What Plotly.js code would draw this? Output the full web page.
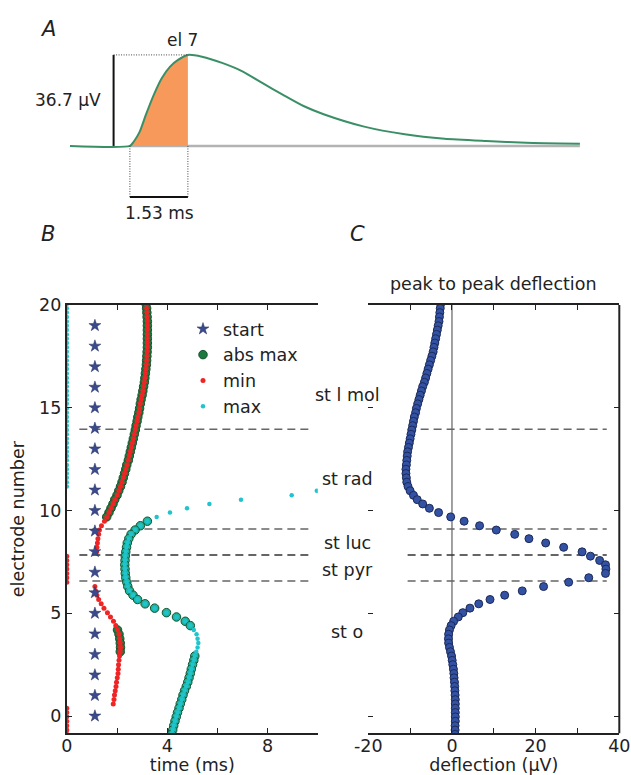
<!DOCTYPE html>
<html><head><meta charset="utf-8">
<script src="https://cdn.plot.ly/plotly-3.0.1.min.js"></script>
<style>html,body{margin:0;padding:0;background:#fff}#chart{width:631px;height:775px}</style>
</head><body><div id="chart"></div>
<script>
// ---------- Panel A: waveform on electrode 7 ----------
const waveTime = [-1.58, 0, 0.1, 0.26, 0.42, 0.63, 0.84, 1.06, 1.27, 1.53, 1.9, 2.45, 2.98, 3.5, 4.04, 4.58, 5.11, 6.18, 7.25, 8.3, 9.4, 10.45, 11.87];
const waveVolt = [0, 0, 1.7, 5.8, 12.5, 20.6, 27.3, 32.0, 34.7, 36.7, 36.0, 33.4, 30.0, 25.3, 20.6, 16.1, 12.8, 7.8, 4.7, 2.9, 2.0, 1.3, 0.9];
const peakAmp = 36.7;      // µV
const riseTime = 1.53;     // ms
const barTime = -0.43;     // position of the amplitude scale bar (ms)
const scaleBarDepth = -20.6; // level of the time scale bar (µV)
const elLabel = 'el 7';

// ---------- Panels B and C: per electrode ----------
const electrode = [20.05, 19.84, 19.63, 19.42, 19.20, 18.99, 18.78, 18.57, 18.36, 18.15,
  17.94, 17.72, 17.51, 17.30, 17.09, 16.88, 16.67, 16.45, 16.24, 16.03,
  15.82, 15.61, 15.40, 15.19, 14.97, 14.76, 14.55, 14.34, 14.13, 13.92,
  13.71, 13.49, 13.28, 13.07, 12.86, 12.65, 12.44, 12.22, 12.01, 11.80,
  11.59, 11.38, 11.17, 10.96, 10.74, 10.53, 10.32, 10.11, 9.90, 9.69,
  9.48, 9.26, 9.05, 8.84, 8.63, 8.42, 8.21, 7.99, 7.78, 7.57,
  7.36, 7.15, 6.94, 6.73, 6.51, 6.30, 6.09, 5.88, 5.67, 5.46,
  5.25, 5.03, 4.82, 4.61, 4.40, 4.19, 3.98, 3.76, 3.55, 3.34,
  3.13, 2.92, 2.71, 2.50, 2.28, 2.07, 1.86, 1.65, 1.44, 1.23,
  1.02, 0.80, 0.59, 0.38, 0.17, -0.04, -0.25, -0.47, -0.68, -0.89];

const tMin = [3.16, 3.18, 3.19, 3.20, 3.21, 3.21, 3.21, 3.21, 3.21, 3.21,
  3.21, 3.20, 3.19, 3.18, 3.17, 3.15, 3.13, 3.11, 3.09, 3.06,
  3.03, 3.00, 2.96, 2.93, 2.90, 2.87, 2.83, 2.80, 2.76, 2.73,
  2.69, 2.65, 2.61, 2.57, 2.53, 2.49, 2.45, 2.39, 2.35, 2.30,
  2.25, 2.20, 2.14, 2.07, 2.00, 1.91, 1.84, 1.76, 1.68, 1.59,
  1.50, 1.38, 1.30, 1.27, 1.24, 1.22, 1.20, 1.19, 0, 0,
  0, 0, 0, 0, 0, 1.12, 1.15, 1.20, 1.27, 1.37,
  1.48, 1.62, 1.74, 1.86, 1.95, 2.02, 2.08, 2.11, 2.13, 2.14,
  2.13, 2.10, 2.08, 2.06, 2.05, 2.04, 2.01, 1.98, 1.96, 1.93,
  1.90, 1.88, 1.85, 0, 0, 0, 0, 0, 0, 0];

const tMax = [0, 0, 0, 0, 0, 0, 0, 0, 0, 0,
  0, 0, 0, 0, 0, 0, 0, 0, 0, 0,
  0, 0, 0, 0, 0, 0, 0, 0, 0, 0,
  0, 0, 0, 0, 0, 0, 0, 0, 0, 0,
  0, 0, 0, 9.96, 8.96, 6.94, 5.68, 4.79, 4.11, 3.58,
  3.21, 2.93, 2.72, 2.56, 2.47, 2.41, 2.38, 2.35, 2.33, 2.32,
  2.31, 2.32, 2.33, 2.35, 2.39, 2.43, 2.50, 2.64, 2.82, 3.12,
  3.50, 3.97, 4.37, 4.72, 4.92, 5.06, 5.17, 5.21, 5.24, 5.21,
  5.16, 5.10, 5.06, 5.01, 4.96, 4.92, 4.87, 4.82, 4.76, 4.69,
  4.63, 4.58, 4.52, 4.47, 4.41, 4.36, 4.31, 4.26, 4.22, 4.18];

const tAbsMax = [3.16, 3.18, 3.19, 3.20, 3.21, 3.21, 3.21, 3.21, 3.21, 3.21,
  3.21, 3.20, 3.19, 3.18, 3.17, 3.15, 3.13, 3.11, 3.09, 3.06,
  3.03, 3.00, 2.96, 2.93, 2.90, 2.87, 2.83, 2.80, 2.76, 2.73,
  2.69, 2.65, 2.61, 2.57, 2.53, 2.49, 2.45, 2.39, 2.35, 2.30,
  2.25, 2.20, 2.14, 2.07, 2.00, 1.91, 1.84, 1.76, 1.68, 1.59,
  3.21, 2.93, 2.72, 2.56, 2.47, 2.41, 2.38, 2.35, 2.33, 2.32,
  2.31, 2.32, 2.33, 2.35, 2.39, 2.43, 2.50, 2.64, 2.82, 3.12,
  3.50, 3.97, 4.37, 4.72, 4.92, 2.02, 2.08, 2.11, 2.13, 2.14,
  2.13, 5.10, 5.06, 5.01, 4.96, 4.92, 4.87, 4.82, 4.76, 4.69,
  4.63, 4.58, 4.52, 4.47, 4.41, 4.36, 4.31, 4.26, 4.22, 4.18];

const startElectrode = [0, 1, 2, 3, 4, 5, 6, 7, 8, 9, 10, 11, 12, 13, 14, 15, 16, 17, 18, 19];
const startTime = [1.12, 1.12, 1.12, 1.12, 1.12, 1.12, 1.12, 1.12, 1.12, 1.12, 1.12, 1.12, 1.12, 1.12, 1.12, 1.12, 1.12, 1.12, 1.12, 1.12];

const deflection = [-2.7, -2.8, -2.9, -3.0, -3.1, -3.3, -3.5, -3.7, -3.9, -4.1,
  -4.3, -4.5, -4.8, -5.1, -5.4, -5.7, -6.0, -6.3, -6.6, -7.0,
  -7.3, -7.6, -7.9, -8.2, -8.5, -8.7, -9.0, -9.2, -9.4, -9.6,
  -9.8, -10.0, -10.2, -10.4, -10.6, -10.7, -10.8, -10.9, -11.0, -11.0,
  -10.9, -10.8, -10.5, -10.0, -9.2, -8.3, -7.0, -5.4, -3.2, -0.3,
  2.9, 6.6, 10.6, 15.0, 18.4, 22.4, 26.7, 31.1, 33.1, 35.3,
  36.7, 36.8, 36.7, 32.7, 27.9, 21.9, 16.8, 12.6, 9.1, 6.4,
  4.3, 2.6, 1.5, 0.4, -0.2, -0.6, -0.8, -0.85, -0.8, -0.6,
  -0.35, -0.1, 0.05, 0.2, 0.35, 0.45, 0.5, 0.6, 0.65, 0.7,
  0.75, 0.8, 0.8, 0.8, 0.8, 0.8, 0.8, 0.75, 0.75, 0.75];

// layer boundaries and names
const layerBounds = [13.95, 9.1, 7.83, 6.57];
const layerNames = ['st l mol', 'st rad', 'st luc', 'st pyr', 'st o'];
const layerNamePos = [15.62, 11.52, 8.40, 7.10, 4.10];

// ---------- build ----------
const FONT = 'DejaVu Sans, Verdana, sans-serif';
const FS = 17.5;
const TXT = '#222';

const W = 631, H = 775;
const px = v => v / W;
const py = v => 1 - v / H;

const traces = [];

// A: gray baseline after onset
const postT = waveTime.filter(t => t >= 0);
traces.push({x: [postT[0], postT[postT.length - 1]], y: [0, 0], xaxis: 'x3', yaxis: 'y3',
  mode: 'lines', line: {color: '#b3b3b3', width: 2.5}, showlegend: false, hoverinfo: 'skip'});
// A: orange rising phase
const riseIdx = waveTime.map((t, i) => i).filter(i => waveTime[i] >= 0 && waveTime[i] <= riseTime);
traces.push({x: riseIdx.map(i => waveTime[i]), y: riseIdx.map(i => waveVolt[i]), xaxis: 'x3', yaxis: 'y3',
  mode: 'lines', line: {width: 0, color: '#f7995a', shape: 'spline', smoothing: 0.6}, fill: 'tozeroy', fillcolor: '#f7995a', showlegend: false, hoverinfo: 'skip'});
// A: waveform
traces.push({x: waveTime, y: waveVolt, xaxis: 'x3', yaxis: 'y3', mode: 'lines',
  line: {color: '#3b8f66', width: 2, shape: 'spline', smoothing: 0.6}, showlegend: false});

// B
const absColors = tAbsMax.map((t, i) => (t === tMax[i] && t !== tMin[i]) ? '#1fb4a2' : '#1b7a3e');
traces.push({x: tAbsMax, y: electrode, mode: 'markers', name: 'abs max', legendgroup: 'g2', legendrank: 2,
  marker: {size: 8.5, color: absColors, line: {color: '#16522e', width: 1}}});
traces.push({x: tMin, y: electrode, mode: 'markers', name: 'min', legendgroup: 'g3', legendrank: 3,
  marker: {size: 5, color: '#ef2424'}});
traces.push({x: tMax, y: electrode, mode: 'markers', name: 'max', legendgroup: 'g4', legendrank: 4,
  marker: {size: 4.5, color: '#20c4cc'}});
traces.push({x: startTime, y: startElectrode, mode: 'markers', name: 'start', legendgroup: 'g1', legendrank: 1,
  marker: {symbol: 'star', size: 9, color: '#3a4a8c', line: {color: '#27305e', width: 0.5}}});

// C
traces.push({x: deflection, y: electrode, xaxis: 'x2', yaxis: 'y2', mode: 'markers', showlegend: false,
  marker: {size: 8, color: '#3352a3', line: {color: '#1c2a58', width: 1}}});

const xDomB = [px(66.8), px(317.8)];
const xDomC = [px(368.3), px(619.3)];
const yDom = [py(733.3), py(305)];

const axBase = {showgrid: false, zeroline: false, ticks: 'inside', ticklen: 5, tickwidth: 1,
  tickcolor: TXT, linecolor: TXT, linewidth: 2, tickfont: {family: FONT, size: FS, color: TXT}};

const shapes = [];
layerBounds.forEach((b, i) => {
  const col = i === 2 ? '#333' : '#666';
  shapes.push({type: 'line', xref: 'x', yref: 'y', x0: 0.5, x1: 9.8, y0: b, y1: b, layer: 'below',
    line: {color: col, width: 1.5, dash: '8px,5px'}});
  shapes.push({type: 'line', xref: 'x2', yref: 'y2', x0: -10.6, x1: 37.0, y0: b, y1: b, layer: 'below',
    line: {color: col, width: 1.5, dash: '8px,5px'}});
});
// C zero line
shapes.push({type: 'line', xref: 'x2', yref: 'y2 domain', x0: 0, x1: 0, y0: 0, y1: 1, layer: 'below',
  line: {color: '#808080', width: 1.5}});
// C right spine
shapes.push({type: 'line', xref: 'paper', yref: 'paper', x0: xDomC[1], x1: xDomC[1], y0: yDom[0], y1: yDom[1],
  line: {color: TXT, width: 2}});
// A scale bars
shapes.push({type: 'line', xref: 'x3', yref: 'y3', x0: barTime, x1: barTime, y0: 0, y1: peakAmp, line: {color: '#111', width: 2}});
shapes.push({type: 'line', xref: 'x3', yref: 'y3', x0: barTime, x1: riseTime, y0: peakAmp, y1: peakAmp, line: {color: '#444', width: 1, dash: '1px,1.5px'}});
shapes.push({type: 'line', xref: 'x3', yref: 'y3', x0: 0, x1: 0, y0: 0, y1: scaleBarDepth, line: {color: '#444', width: 1, dash: '1px,1.5px'}});
shapes.push({type: 'line', xref: 'x3', yref: 'y3', x0: riseTime, x1: riseTime, y0: 0, y1: scaleBarDepth, line: {color: '#444', width: 1, dash: '1px,1.5px'}});
shapes.push({type: 'line', xref: 'x3', yref: 'y3', x0: 0, x1: riseTime, y0: scaleBarDepth, y1: scaleBarDepth, line: {color: '#111', width: 2}});

const ann = [];
const aFont = {family: FONT, size: FS, color: TXT};
layerNames.forEach((n, i) => ann.push({text: n, xref: 'paper', yref: 'y', x: px(347), y: layerNamePos[i],
  xanchor: 'center', yanchor: 'middle', showarrow: false, font: aFont}));
ann.push({text: 'peak to peak deflection', xref: 'paper', yref: 'paper', x: px(493.5), y: py(284),
  xanchor: 'center', yanchor: 'middle', showarrow: false, font: aFont});
ann.push({text: peakAmp + ' µV', xref: 'paper', yref: 'paper', x: px(103), y: py(100),
  xanchor: 'right', yanchor: 'middle', showarrow: false, font: {family: FONT, size: 17, color: TXT}});
ann.push({text: elLabel, xref: 'paper', yref: 'paper', x: px(182), y: py(40),
  xanchor: 'center', yanchor: 'middle', showarrow: false, font: {family: FONT, size: 17, color: TXT}});
ann.push({text: riseTime + ' ms', xref: 'paper', yref: 'paper', x: px(159), y: py(213),
  xanchor: 'center', yanchor: 'middle', showarrow: false, font: {family: FONT, size: 17, color: TXT}});
const letterFont = {family: FONT, size: 21, color: TXT, style: 'italic'};
[['A', 47.5, 29], ['B', 48.5, 234], ['C', 357, 234]].forEach(([t, x, y]) =>
  ann.push({text: t, xref: 'paper', yref: 'paper', x: px(x), y: py(y), xanchor: 'center', yanchor: 'middle',
    showarrow: false, font: letterFont}));

const layout = {
  width: W, height: H, margin: {l: 0, r: 0, t: 0, b: 0},
  paper_bgcolor: '#fff', plot_bgcolor: 'rgba(0,0,0,0)',
  font: {family: FONT, size: FS, color: TXT},
  showlegend: true,
  legend: {x: px(183), y: py(311), xanchor: 'left', yanchor: 'top', bgcolor: 'rgba(0,0,0,0)',
    font: {family: FONT, size: FS, color: TXT}, traceorder: 'grouped', tracegroupgap: 0, borderwidth: 0},
  xaxis: Object.assign({}, axBase, {domain: xDomB, range: [0, 10], anchor: 'y', ticklabelstandoff: -4,
    tickvals: [0, 2, 4, 6, 8, 10], ticktext: ['0', '', '4', '', '8', ''], showline: true, mirror: 'ticks',
    title: {text: 'time (ms)', font: {family: FONT, size: FS, color: TXT}, standoff: 8}}),
  yaxis: Object.assign({}, axBase, {domain: yDom, range: [-0.84, 20], anchor: 'x',
    tickvals: [0, 5, 10, 15, 20], showline: true, mirror: false,
    title: {text: 'electrode number', font: {family: FONT, size: FS, color: TXT}, standoff: 10}}),
  xaxis2: Object.assign({}, axBase, {domain: xDomC, range: [-20, 40], anchor: 'y2', ticklabelstandoff: -4,
    tickvals: [-20, -10, 0, 10, 20, 30, 40], ticktext: ['-20', '', '0', '', '20', '', '40'], showline: true, mirror: 'ticks',
    title: {text: 'deflection (µV)', font: {family: FONT, size: FS, color: TXT}, standoff: 8}}),
  yaxis2: Object.assign({}, axBase, {domain: yDom, range: [-0.84, 20], anchor: 'x2',
    tickvals: [0, 5, 10, 15, 20], showticklabels: false, showline: false, mirror: 'ticks'}),
  xaxis3: {domain: [px(30), px(600)], range: [-2.635, 12.40], visible: false, anchor: 'y3', fixedrange: true},
  yaxis3: {domain: [py(205), py(45)], range: [-23.8, 40.7], visible: false, anchor: 'x3', fixedrange: true},
  shapes: shapes,
  annotations: ann
};

Plotly.newPlot('chart', traces, layout, {displayModeBar: false, staticPlot: true});
</script></body></html>
